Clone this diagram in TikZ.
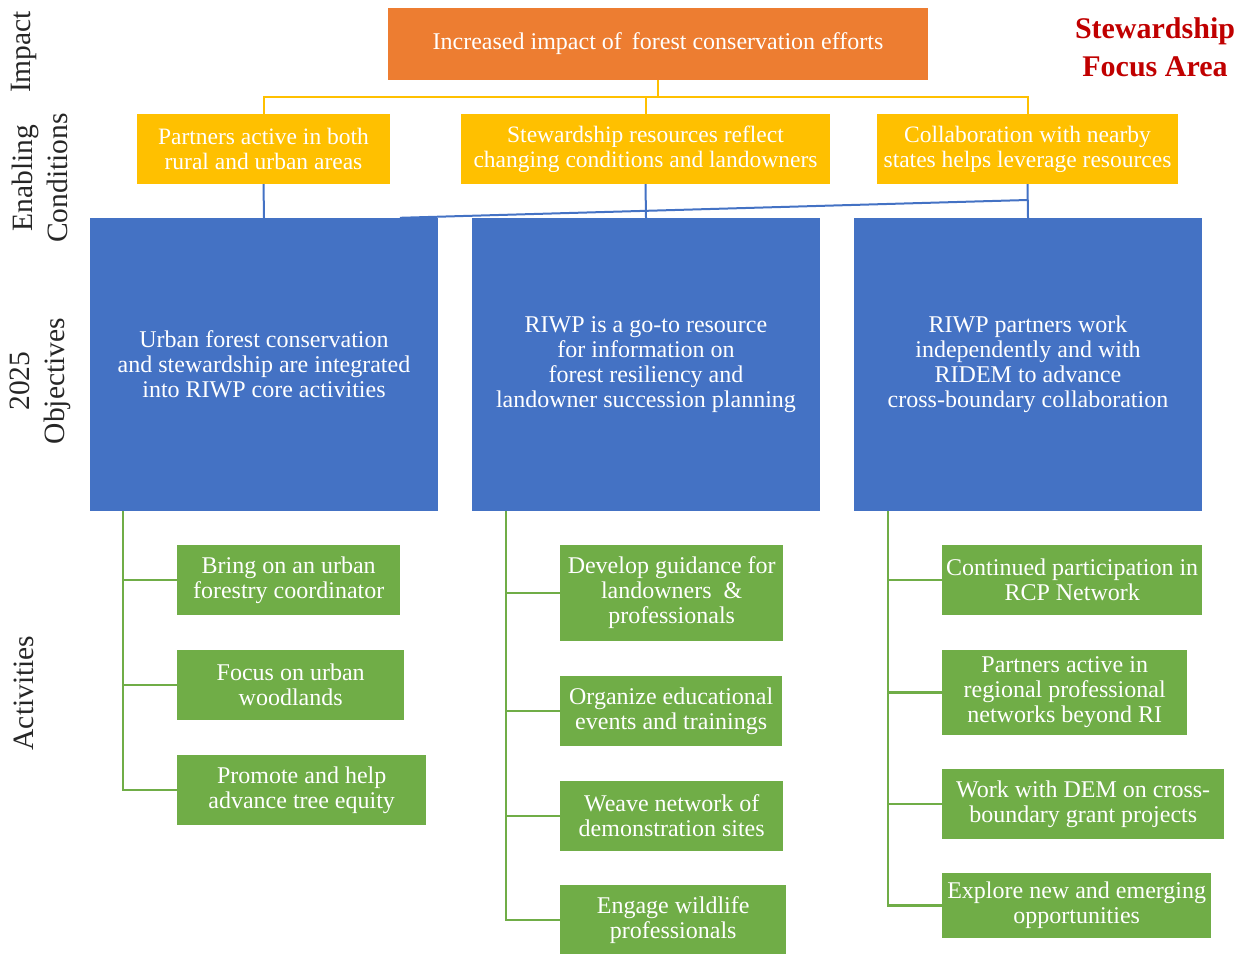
\documentclass[tikz,border=0pt]{standalone}
\usepackage{fontspec}
\setmainfont{Liberation Serif}
\usetikzlibrary{calc}
\definecolor{corange}{HTML}{ED7D31}
\definecolor{cyellow}{HTML}{FFC000}
\definecolor{cblue}{HTML}{4472C4}
\definecolor{cgreen}{HTML}{70AD47}
\definecolor{cred}{HTML}{C00000}
\tikzset{
  box/.style={rectangle, inner sep=1pt, align=center, text=white, font=\fontsize{24}{25}\selectfont},
  impbox/.style={box, fill=corange},
  enbox/.style={box, fill=cyellow, minimum height=70pt, font=\fontsize{23.5}{25}\selectfont},
  objbox/.style={box, fill=cblue, minimum width=348pt, minimum height=293pt, font=\fontsize{24}{25}\selectfont},
  actbox/.style={box, fill=cgreen, font=\fontsize{24}{25}\selectfont},
  ycon/.style={draw=cyellow, line width=2pt},
  bcon/.style={draw=cblue, line width=2pt},
  gcon/.style={draw=cgreen, line width=2.2pt},
  sidelabel/.style={rotate=90, font=\fontsize{29.5}{35}\selectfont, text=black!85, align=center},
}
\begin{document}
\begin{tikzpicture}[x=1pt, y=-1pt]
\useasboundingbox (0,0) rectangle (1249,953);
% title
\node[font=\bfseries\fontsize{30}{38}\selectfont, text=cred, align=center] (title) at (1155,47) {Stewardship\\Focus Area};
% side labels
\node[sidelabel] (lImp) at (24,52) {Impact};
\node[sidelabel] (lEn) at (40,178) {Enabling\\Conditions};
\node[sidelabel] (lObj) at (40,381) {2025\\Objectives};
\node[sidelabel] (lAct) at (24,693) {Activities};
% impact
\node[impbox, minimum width=540pt, minimum height=72pt] (imp) at (658,44) {Increased impact of\, forest conservation efforts};
% enabling conditions
\node[enbox, minimum width=253pt] (e1) at (263.5,149) {Partners active in both\\rural and urban areas};
\node[enbox, minimum width=369pt] (e2) at (645.5,149) {Stewardship resources reflect\\changing conditions and landowners};
\node[enbox, minimum width=301pt] (e3) at (1027.5,149) {Collaboration with nearby\\states helps leverage resources};
% objectives
\node[objbox] (o1) at (264,364.5) {Urban forest conservation\\and stewardship are integrated\\into RIWP core activities};
\node[objbox] (o2) at (646,364.5) {RIWP is a go-to resource\\for information on\\forest resiliency and\\landowner succession planning};
\node[objbox] (o3) at (1028,364.5) {RIWP partners work\\independently and with\\RIDEM to advance\\cross-boundary collaboration};
% activities
\node[actbox, minimum width=223pt, minimum height=70pt, anchor=west] (a11) at (177,580) {Bring on an urban\\forestry coordinator};
\node[actbox, minimum width=227pt, minimum height=70pt, anchor=west] (a12) at (177,685) {Focus on urban\\woodlands};
\node[actbox, minimum width=249pt, minimum height=70pt, anchor=west] (a13) at (177,790) {Promote and help\\advance tree equity};
\node[actbox, minimum width=223pt, minimum height=96pt, anchor=west] (a21) at (560,593) {Develop guidance for\\landowners\enspace\&\\professionals};
\node[actbox, minimum width=222pt, minimum height=70pt, anchor=west] (a22) at (560,711) {Organize educational\\events and trainings};
\node[actbox, minimum width=223pt, minimum height=70pt, anchor=west] (a23) at (560,816) {Weave network of\\demonstration sites};
\node[actbox, minimum width=226pt, minimum height=70pt, anchor=west] (a24) at (560,920) {Engage wildlife\\professionals};
\node[actbox, minimum width=260pt, minimum height=70pt, anchor=west] (a31) at (942,580) {Continued participation in\\RCP Network};
\node[actbox, minimum width=245pt, minimum height=85pt, anchor=west] (a32) at (942,692.5) {Partners active in\\regional professional\\networks beyond RI};
\node[actbox, minimum width=282pt, minimum height=70pt, anchor=west] (a33) at (942,804) {Work with DEM on cross-\\boundary grant projects};
\node[actbox, minimum width=269pt, minimum height=65pt, anchor=west] (a34) at (942,905.5) {Explore new and emerging\\opportunities};
% yellow connectors
\coordinate (ybus) at (0,97);
\draw[ycon] (imp.south) -- (imp.south |- ybus);
\draw[ycon] (e1.north) -- (e1.north |- ybus) -- (e3.north |- ybus) -- (e3.north);
\draw[ycon] (e2.north) -- (e2.north |- ybus);
% blue connectors
\draw[bcon] (e1.south) -- (o1.north);
\draw[bcon] (e2.south) -- (o2.north);
\draw[bcon] (e3.south) -- (o3.north);
\draw[bcon] ($(o1.north west)!0.89!(o1.north east)$) -- ($(e3.south)!0.47!(o3.north)$);
% green connectors
\draw[gcon] ([xshift=33pt]o1.south west) |- (a13.west);
\draw[gcon] ([xshift=33pt]o1.south west |- a11.west) -- (a11.west);
\draw[gcon] ([xshift=33pt]o1.south west |- a12.west) -- (a12.west);
\draw[gcon] ([xshift=34pt]o2.south west) |- (a24.west);
\draw[gcon] ([xshift=34pt]o2.south west |- a21.west) -- (a21.west);
\draw[gcon] ([xshift=34pt]o2.south west |- a22.west) -- (a22.west);
\draw[gcon] ([xshift=34pt]o2.south west |- a23.west) -- (a23.west);
\draw[gcon] ([xshift=34pt]o3.south west) |- (a34.west);
\draw[gcon] ([xshift=34pt]o3.south west |- a31.west) -- (a31.west);
\draw[gcon] ([xshift=34pt]o3.south west |- a32.west) -- (a32.west);
\draw[gcon] ([xshift=34pt]o3.south west |- a33.west) -- (a33.west);
\end{tikzpicture}
\end{document}
